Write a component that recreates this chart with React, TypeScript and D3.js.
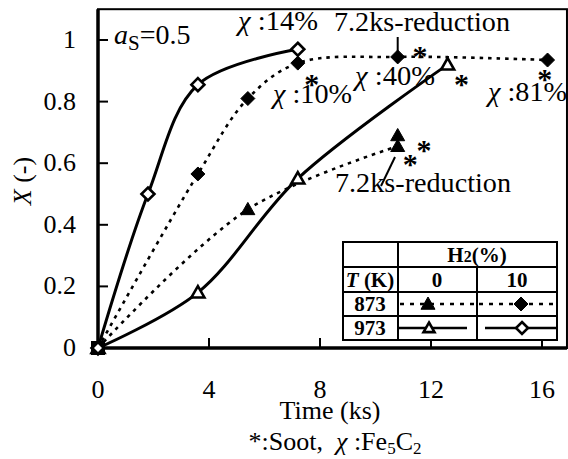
import React from "react";
import * as d3 from "d3";

// reduction curves, a_s = 0.5
const t973h10 = [0, 1.8, 3.6, 7.2];
const x973h10 = [0, 0.5, 0.855, 0.97];
const t873h10 = [0, 3.6, 5.4, 7.2, 10.8, 16.2];
const x873h10 = [0, 0.565, 0.81, 0.925, 0.945, 0.935];
const t873h0 = [0, 5.4, 10.8];
const x873h0 = [0, 0.45, 0.655];
const t873h0extra = [10.8];
const x873h0extra = [0.69];
const t973h0 = [0, 3.6, 7.2, 12.6];
const x973h0 = [0, 0.18, 0.55, 0.92];

// soot markers (*)
const sootT = [7.7, 11.6, 13.1, 16.1, 11.75, 11.25];
const sootX = [0.87, 0.96, 0.87, 0.886, 0.655, 0.61];

const xTicks = [0, 4, 8, 12, 16];
const yTicks = [0, 0.2, 0.4, 0.6, 0.8, 1];
const yTickLabels = ["0", "0.2", "0.4", "0.6", "0.8", "1"];

const ts = { fontFamily: '"Liberation Serif"' };

const zip = (a: number[], b: number[]) => a.map((v, i) => [v, b[i]] as [number, number]);

const diamond = (cx: number, cy: number, r = 7) =>
  `M${cx},${cy - r}L${cx + r},${cy}L${cx},${cy + r}L${cx - r},${cy}Z`;
const triangle = (cx: number, cy: number, s = 7) =>
  `M${cx},${cy - s}L${cx + s},${cy + s * 0.75}L${cx - s},${cy + s * 0.75}Z`;

export default function App() {
  const x = d3.scaleLinear().domain([0, 16]).range([98, 542]);
  const y = d3.scaleLinear().domain([0, 1]).range([348, 40]);
  const xMax = 16.9;
  const yMax = 1.1;

  const line = d3
    .line<[number, number]>()
    .x((d) => x(d[0]))
    .y((d) => y(d[1]))
    .curve(d3.curveCatmullRom.alpha(0.5));

  const dash = "3.5,5";

  return (
    <svg width={568} height={459} style={{ position: "absolute", left: 0, top: 0, background: "#fff" }}>
      {/* curves */}
      <path d={line(zip(t973h10, x973h10)) || ""} fill="none" stroke="#000" strokeWidth={3} />
      <path d={line(zip(t973h0, x973h0)) || ""} fill="none" stroke="#000" strokeWidth={3} />
      <path d={line(zip(t873h10, x873h10)) || ""} fill="none" stroke="#000" strokeWidth={2.6} strokeDasharray={dash} />
      <path d={line(zip(t873h0, x873h0)) || ""} fill="none" stroke="#000" strokeWidth={2.6} strokeDasharray={dash} />

      {/* frame */}
      <rect x={x(0)} y={y(yMax)} width={x(xMax) - x(0)} height={y(0) - y(yMax)} fill="none" stroke="#000" strokeWidth={2} />
      <line x1={x(0)} x2={x(0)} y1={y(yMax)} y2={y(0) + 1.5} stroke="#000" strokeWidth={3.5} />
      <line x1={x(0)} x2={x(xMax)} y1={y(0)} y2={y(0)} stroke="#000" strokeWidth={3.5} />

      {/* ticks */}
      {yTicks.map((v, i) => (
        <g key={"y" + i}>
          <line x1={x(0)} x2={x(0) + 10} y1={y(v)} y2={y(v)} stroke="#000" strokeWidth={2} />
          <text style={ts} x={76} y={y(v) + 8} textAnchor="end" fontSize={26}>
            {yTickLabels[i]}
          </text>
        </g>
      ))}
      {xTicks.map((v) => (
        <g key={"x" + v}>
          <line x1={x(v)} x2={x(v)} y1={y(0)} y2={y(0) - 10} stroke="#000" strokeWidth={2} />
          <text style={ts} x={x(v)} y={398} textAnchor="middle" fontSize={26}>
            {v}
          </text>
        </g>
      ))}

      {/* axis titles */}
      <text style={ts} x={330} y={419} textAnchor="middle" fontSize={26}>
        Time (ks)
      </text>
      <text style={ts} x={335} y={450} textAnchor="middle" fontSize={26}>
        *:Soot,&nbsp; <tspan fontStyle="italic">χ</tspan> :Fe<tspan fontSize={17} dy={4}>5</tspan>
        <tspan dy={-4}>C</tspan>
        <tspan fontSize={17} dy={4}>2</tspan>
      </text>
      <text style={ts} transform="translate(31,181) rotate(-90)" textAnchor="middle" fontSize={26}>
        <tspan fontStyle="italic">X</tspan> (-)
      </text>
      <text style={ts} x={114} y={44} fontSize={28}>
        <tspan fontStyle="italic">a</tspan>
        <tspan fontSize={21} dy={6}>S</tspan>
        <tspan dy={-6}>=0.5</tspan>
      </text>

      {/* markers */}
      {zip(t873h10, x873h10).map((d, i) => (
        <path key={"a" + i} d={diamond(x(d[0]), y(d[1]))} fill="#000" stroke="#000" strokeWidth={1} />
      ))}
      {zip(t973h10, x973h10).map((d, i) => (
        <path key={"b" + i} d={diamond(x(d[0]), y(d[1]), 6.5)} fill="#fff" stroke="#000" strokeWidth={2.6} />
      ))}
      {zip(t873h0, x873h0)
        .concat(zip(t873h0extra, x873h0extra))
        .map((d, i) => (
          <path key={"c" + i} d={triangle(x(d[0]), y(d[1]))} fill="#000" stroke="#000" strokeWidth={1} />
        ))}
      {zip(t973h0, x973h0).map((d, i) => (
        <path key={"d" + i} d={triangle(x(d[0]), y(d[1]), 6.5)} fill="#fff" stroke="#000" strokeWidth={2.6} />
      ))}
      <rect x={x(0) - 7} y={y(0) - 7} width={14} height={14} fill="#000" />
      <path d={diamond(x(0), y(0), 4)} fill="#fff" />

      {/* soot */}
      {zip(sootT, sootX).map((d, i) => (
        <text style={ts} key={"s" + i} x={x(d[0])} y={y(d[1]) + 14} textAnchor="middle" fontSize={30} fontWeight="bold">
          *
        </text>
      ))}

      {/* annotations */}
      <g fontSize={27}>
        <text style={ts} x={238} y={30} textLength={80} lengthAdjust="spacingAndGlyphs">
          <tspan fontStyle="italic">χ</tspan> :14%
        </text>
        <text style={ts} x={334} y={31} textLength={176} lengthAdjust="spacingAndGlyphs">
          7.2ks-reduction
        </text>
        <text style={ts} x={355} y={85} textLength={80} lengthAdjust="spacingAndGlyphs">
          <tspan fontStyle="italic">χ</tspan> :40%
        </text>
        <text style={ts} x={273} y={103} textLength={79} lengthAdjust="spacingAndGlyphs">
          <tspan fontStyle="italic">χ</tspan> :10%
        </text>
        <text style={ts} x={488} y={101} textLength={79} lengthAdjust="spacingAndGlyphs">
          <tspan fontStyle="italic">χ</tspan> :81%
        </text>
        <text style={ts} x={335} y={192} textLength={176} lengthAdjust="spacingAndGlyphs">
          7.2ks-reduction
        </text>
      </g>
      <line x1={x(10.8)} x2={x(10.8)} y1={37} y2={y(0.945) - 4} stroke="#000" strokeWidth={2} />
      <line x1={395} y1={157} x2={381} y2={186} stroke="#000" strokeWidth={2} />

      {/* legend table */}
      <g stroke="#000" strokeWidth={2} fill="none">
        <rect x={343} y={242} width={214} height={98} fill="#fff" />
        <line x1={398} x2={398} y1={242} y2={340} />
        <line x1={477} x2={477} y1={267} y2={340} />
        <line x1={343} x2={557} y1={267} y2={267} />
        <line x1={343} x2={557} y1={292} y2={292} />
        <line x1={343} x2={557} y1={316} y2={316} />
        <line x1={400} x2={475} y1={304} y2={304} strokeDasharray="4,6" strokeWidth={2.6} />
        <line x1={479} x2={555} y1={304} y2={304} strokeDasharray="4,6" strokeWidth={2.6} />
        <line x1={399} x2={467} y1={328} y2={328} strokeWidth={2.6} />
        <line x1={485} x2={557} y1={328} y2={328} strokeWidth={2.6} />
      </g>
      <path d={triangle(428, 304)} fill="#000" stroke="#000" />
      <path d={diamond(521, 304)} fill="#000" stroke="#000" />
      <path d={triangle(429, 328, 5.5)} fill="#fff" stroke="#000" strokeWidth={2.6} />
      <path d={diamond(522, 328, 6)} fill="#fff" stroke="#000" strokeWidth={2.6} />
      <g fontSize={21} fontWeight="bold" textAnchor="middle">
        <text style={ts} x={477} y={262}>
          H<tspan fontSize={16}>2</tspan>(%)
        </text>
        <text style={ts} x={370} y={287}>
          <tspan fontStyle="italic">T</tspan> (K)
        </text>
        <text style={ts} x={437} y={287}>0</text>
        <text style={ts} x={517} y={287}>10</text>
        <text style={ts} x={370} y={311}>873</text>
        <text style={ts} x={370} y={335}>973</text>
      </g>
    </svg>
  );
}
